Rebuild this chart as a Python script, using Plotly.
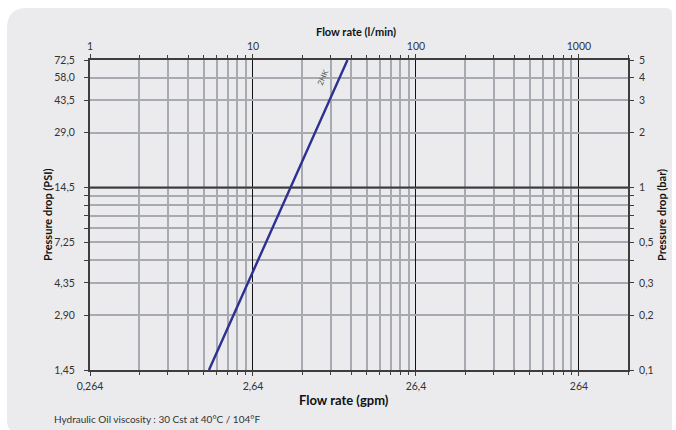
import math
import plotly.graph_objects as go

# ---- data ----
flow_lpm = [5.37, 10.0, 17.0, 38.0]          # flow rate (l/min)
dp_bar = [0.1, 0.35, 1.0, 5.0]               # pressure drop (bar)
series_name = "2HK"

top_tickvals = [1, 10, 100, 1000]
top_ticktext = ["1", "10", "100", "1000"]
bottom_ticktext = ["0,264", "2,64", "26,4", "264"]
x_minor = [m * d for d in (1, 10, 100) for m in range(2, 10)] + [2000]

y_tickvals = [0.1, 0.2, 0.3, 0.5, 1, 2, 3, 4, 5]
y_psi_text = ["1,45", "2,90", "4,35", "7,25", "14,5", "29,0", "43,5", "58,0", "72,5"]
y_bar_text = ["0,1", "0,2", "0,3", "0,5", "1", "2", "3", "4", "5"]
y_minor = [0.4, 0.6, 0.7, 0.8, 0.9]
y_emphasis_bar = 1.0

x_range = [0, math.log10(2000)]
y_range = [math.log10(0.1), math.log10(5)]

W, H = 676, 430
L, R, T, B = 90, 48, 60, 60
PW, PH = W - L - R, H - T - B

def px(xp):
    return (xp - L) / PW

def py(yp):
    return (H - B - yp) / PH

FONT = "Lato"
GRID = "#a7aab0"
AX = "#3d3d3d"

fig = go.Figure()
fig.add_trace(go.Scatter(x=flow_lpm, y=dp_bar, mode="lines",
                         line=dict(color="#2e3192", width=2.4),
                         hoverinfo="skip", showlegend=False))
fig.add_trace(go.Scatter(x=flow_lpm, y=dp_bar, mode="lines", xaxis="x2", yaxis="y2",
                         line=dict(color="rgba(0,0,0,0)", width=0),
                         hoverinfo="skip", showlegend=False))

# rounded background panel
x0, x1, y0, y1 = 7, 672, 8, 434
r_tl, r_tr, r_bl = 20, 6, 14
path = (f"M {px(x0)},{py(y0 + r_tl)} "
        f"Q {px(x0)},{py(y0)} {px(x0 + r_tl)},{py(y0)} "
        f"L {px(x1 - r_tr)},{py(y0)} "
        f"Q {px(x1)},{py(y0)} {px(x1)},{py(y0 + r_tr)} "
        f"L {px(x1)},{py(y1)} "
        f"L {px(x0 + r_bl)},{py(y1)} "
        f"Q {px(x0)},{py(y1)} {px(x0)},{py(y1 - r_bl)} Z")
fig.add_shape(type="path", path=path, xref="paper", yref="paper",
              fillcolor="#ebebed", line=dict(width=0), layer="below")

# emphasised 1 bar line, position derived from the axis range
y_emph_paper = (math.log10(y_emphasis_bar) - y_range[0]) / (y_range[1] - y_range[0])
fig.add_shape(type="line", xref="paper", x0=0, x1=1, yref="paper",
              y0=y_emph_paper, y1=y_emph_paper,
              line=dict(color="#3a3a3a", width=2), layer="above")

tickfont = dict(family=FONT, size=10.5, color="#333333")

fig.update_layout(
    width=W, height=H,
    margin=dict(l=L, r=R, t=T, b=B),
    paper_bgcolor="white", plot_bgcolor="rgba(0,0,0,0)",
    font=dict(family=FONT, color="#222222"),
    xaxis=dict(type="log", range=x_range, tickmode="array",
               tickvals=top_tickvals, ticktext=bottom_ticktext,
               showgrid=True, gridcolor="#111111", gridwidth=1.3,
               ticks="outside", ticklen=4, tickcolor=AX, tickwidth=1,
               showline=True, linecolor=AX, linewidth=2,
               tickfont=tickfont, ticklabelstandoff=1, zeroline=False,
               minor=dict(tickmode="array", tickvals=x_minor, showgrid=True,
                          gridcolor=GRID, gridwidth=1.6, ticks="outside",
                          ticklen=3, tickcolor=AX)),
    xaxis2=dict(type="log", range=x_range, overlaying="x", side="top",
                tickmode="array", tickvals=top_tickvals, ticktext=top_ticktext,
                showgrid=False, ticks="outside", ticklen=4, tickcolor=AX,
                showline=True, linecolor=AX, linewidth=2,
                tickfont=tickfont, ticklabelstandoff=0, zeroline=False,
                minor=dict(tickmode="array", tickvals=x_minor, ticks="outside",
                           ticklen=3, tickcolor=AX, showgrid=False)),
    yaxis=dict(type="log", range=y_range, tickmode="array",
               tickvals=y_tickvals, ticktext=y_psi_text,
               showgrid=True, gridcolor=GRID, gridwidth=1.6,
               ticks="outside", ticklen=4, tickcolor=AX,
               showline=True, linecolor=AX, linewidth=2,
               tickfont=tickfont, ticklabelstandoff=7, zeroline=False,
               minor=dict(tickmode="array", tickvals=y_minor, showgrid=True,
                          gridcolor=GRID, gridwidth=1.6, ticks="outside",
                          ticklen=4, tickcolor=AX)),
    yaxis2=dict(type="log", range=y_range, overlaying="y", side="right",
                tickmode="array", tickvals=y_tickvals, ticktext=y_bar_text,
                showgrid=False, ticks="outside", ticklen=4, tickcolor=AX,
                showline=True, linecolor=AX, linewidth=2,
                tickfont=tickfont, ticklabelstandoff=3, zeroline=False,
                minor=dict(tickmode="array", tickvals=y_minor, ticks="outside",
                           ticklen=4, tickcolor=AX, showgrid=False)),
    showlegend=False,
)

ann = [
    dict(text="<b>Flow rate (l/min)</b>", x=px(356), y=py(31), size=11),
    dict(text="<b>Flow rate (gpm)</b>", x=px(344), y=py(400), size=13),
    dict(text="<b>Pressure drop (PSI)</b>", x=px(47), y=py(215), size=11, angle=-90),
    dict(text="<b>Pressure drop (bar)</b>", x=px(661), y=py(215), size=11, angle=-90),
]
for a in ann:
    fig.add_annotation(text=a["text"], x=a["x"], y=a["y"], xref="paper", yref="paper",
                       showarrow=False, xanchor="center", yanchor="middle",
                       textangle=a.get("angle", 0),
                       font=dict(family=FONT, size=a["size"], color="#111111"))

fig.add_annotation(text="Hydraulic Oil viscosity : 30 Cst at 40°C / 104°F",
                   x=px(52), y=py(419), xref="paper", yref="paper",
                   showarrow=False, xanchor="left", yanchor="middle",
                   font=dict(family=FONT, size=10, color="#333333"))

# series label along the line
fig.add_annotation(text=series_name, x=math.log10(26.8), y=math.log10(4.05),
                   xref="x", yref="y", showarrow=False, textangle=-66,
                   font=dict(family=FONT, size=8, color="#555555"))

fig.write_html("out.html", config={"displayModeBar": False},
               post_script="document.body.style.margin='0';document.body.style.padding='0';document.body.style.overflow='hidden';")
